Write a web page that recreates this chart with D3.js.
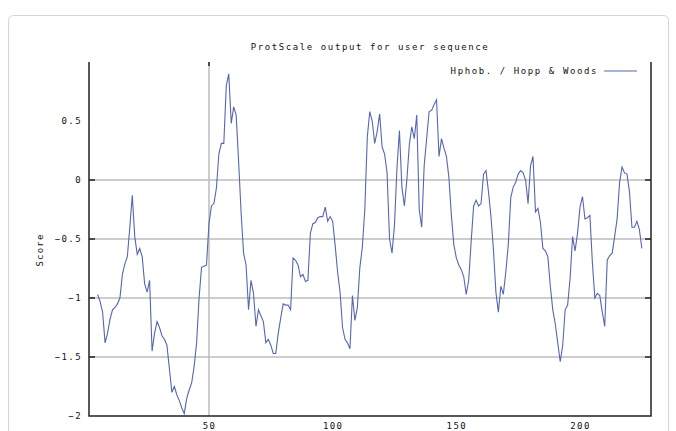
<!DOCTYPE html>
<html>
<head>
<meta charset="utf-8">
<script src="https://cdn.jsdelivr.net/npm/d3@7"></script>
<style>
  html, body { margin: 0; padding: 0; background: #fff; }
  svg { display: block; }
  text { font-family: "DejaVu Sans Mono", monospace; fill: #111; }
</style>
</head>
<body>
<svg id="chart" width="676" height="431"></svg>
<script>
// Hopp & Woods hydrophilicity profile, window centred on each residue
const firstPosition = 5;
const scores = [
  -0.97,-1.03,-1.12,-1.38,-1.3,-1.18,-1.1,-1.08,-1.05,-1.0,
  -0.8,-0.71,-0.65,-0.4,-0.13,-0.48,-0.63,-0.58,-0.65,-0.88,
  -0.95,-0.85,-1.45,-1.3,-1.2,-1.25,-1.32,-1.35,-1.4,-1.6,
  -1.8,-1.75,-1.82,-1.87,-1.93,-1.98,-1.85,-1.78,-1.72,-1.58,
  -1.38,-1.0,-0.74,-0.73,-0.72,-0.37,-0.22,-0.2,-0.07,0.22,
  0.31,0.31,0.8,0.9,0.48,0.62,0.55,0.15,-0.28,-0.62,
  -0.72,-1.1,-0.85,-0.96,-1.24,-1.1,-1.15,-1.2,-1.38,-1.35,
  -1.4,-1.47,-1.47,-1.3,-1.17,-1.05,-1.06,-1.06,-1.1,-0.66,
  -0.68,-0.72,-0.82,-0.8,-0.86,-0.85,-0.45,-0.37,-0.36,-0.32,
  -0.31,-0.31,-0.23,-0.35,-0.31,-0.35,-0.55,-0.78,-0.95,-1.25,
  -1.35,-1.38,-1.43,-0.98,-1.19,-1.08,-0.74,-0.57,-0.25,0.36,
  0.58,0.5,0.31,0.41,0.56,0.28,0.22,0.06,-0.5,-0.62,
  -0.38,0.1,0.42,-0.06,-0.22,0.0,0.3,0.45,0.35,0.55,
  -0.25,-0.4,0.12,0.35,0.58,0.59,0.64,0.68,0.2,0.35,
  0.27,0.2,0.02,-0.3,-0.55,-0.66,-0.72,-0.76,-0.82,-0.97,
  -0.85,-0.52,-0.22,-0.17,-0.22,-0.2,0.05,0.08,-0.1,-0.31,
  -0.59,-0.95,-1.12,-0.9,-0.97,-0.78,-0.55,-0.15,-0.06,-0.02,
  0.05,0.08,0.06,0.0,-0.2,0.12,0.2,-0.27,-0.24,-0.36,
  -0.58,-0.6,-0.65,-0.9,-1.1,-1.22,-1.38,-1.54,-1.4,-1.1,
  -1.06,-0.83,-0.48,-0.6,-0.45,-0.23,-0.14,-0.33,-0.32,-0.3,
  -0.7,-1.0,-0.96,-0.98,-1.12,-1.24,-0.68,-0.64,-0.62,-0.48,
  -0.33,-0.02,0.11,0.06,0.05,-0.1,-0.4,-0.4,-0.35,-0.42,-0.58
];
const xTicks = [50, 100, 150, 200];
const yTicks = [1, 0.5, 0, -0.5, -1, -1.5, -2];
const yGrid = [0, -0.5, -1, -1.5];
const xGrid = [50];
const titleText = "ProtScale output for user sequence";
const legendText = "Hphob. / Hopp & Woods";
const yLabel = "Score";

const svg = d3.select("#chart");
const lineColor = "#5566b4";

const plotLeft = 89, plotRight = 651, plotTop = 62, plotBottom = 416;
const x = d3.scaleLinear().domain([1.5, 228.7]).range([plotLeft, plotRight]);
const y = d3.scaleLinear().domain([-2, 1]).range([plotBottom, plotTop]);

// card frame
svg.append("rect")
  .attr("x", 8.5).attr("y", 15.5).attr("width", 660).attr("height", 440)
  .attr("rx", 5).attr("fill", "#fff").attr("stroke", "#d4d4d4");

const clip = svg.append("clipPath").attr("id", "topclip");
clip.append("rect").attr("x", 0).attr("y", 58).attr("width", 676).attr("height", 400);

// grid lines
svg.append("g").selectAll("line").data(yGrid).join("line")
  .attr("x1", plotLeft).attr("x2", plotRight)
  .attr("y1", d => y(d)).attr("y2", d => y(d))
  .attr("stroke", "#bdbdbd").attr("stroke-width", 1.5);
svg.append("g").selectAll("line").data(xGrid).join("line")
  .attr("x1", d => x(d)).attr("x2", d => x(d))
  .attr("y1", plotTop).attr("y2", plotBottom)
  .attr("stroke", "#bdbdbd").attr("stroke-width", 1.5);

// y axis (left) with labels
const yAxis = d3.axisLeft(y).tickValues(yTicks).tickSize(0).tickPadding(7)
  .tickFormat(d => d3.format("")(d));
const gy = svg.append("g").attr("transform", `translate(${plotLeft},0)`).call(yAxis);
gy.select(".domain").remove();
gy.selectAll("text").attr("font-size", 9).attr("letter-spacing", 1.4)
  .attr("font-family", "DejaVu Sans Mono").attr("fill", "#111");
gy.selectAll(".tick").filter(d => d === 1).attr("clip-path", "url(#topclip)");

// x axis labels
const xAxis = d3.axisBottom(x).tickValues(xTicks).tickSize(0).tickPadding(7);
const gx = svg.append("g").attr("transform", `translate(0,${plotBottom})`).call(xAxis);
gx.select(".domain").remove();
gx.selectAll("text").attr("font-size", 9).attr("letter-spacing", 1.4)
  .attr("font-family", "DejaVu Sans Mono").attr("fill", "#111");

// inner tick marks on both sides
const tickLen = 6;
svg.append("g").selectAll("line").data(yGrid).join("line")
  .attr("x1", plotLeft).attr("x2", plotLeft + tickLen)
  .attr("y1", d => y(d)).attr("y2", d => y(d))
  .attr("stroke", "#222").attr("stroke-width", 1.5);
svg.append("g").selectAll("line").data(yGrid).join("line")
  .attr("x1", plotRight - tickLen).attr("x2", plotRight)
  .attr("y1", d => y(d)).attr("y2", d => y(d))
  .attr("stroke", "#222").attr("stroke-width", 1.5);
svg.append("g").selectAll("line").data(xGrid).join("line")
  .attr("x1", d => x(d)).attr("x2", d => x(d))
  .attr("y1", plotTop).attr("y2", plotTop + 4)
  .attr("stroke", "#222").attr("stroke-width", 1.5);

// frame: left, bottom, right
svg.append("path")
  .attr("d", `M${plotLeft},${plotTop}V${plotBottom}H${plotRight}V${plotTop}`)
  .attr("fill", "none").attr("stroke", "#222").attr("stroke-width", 1.5);

// profile line
const points = scores.map((v, i) => [firstPosition + i, v]);
svg.append("path")
  .datum(points)
  .attr("fill", "none")
  .attr("stroke", lineColor)
  .attr("stroke-width", 1.1)
  .attr("d", d3.line().x(d => x(d[0])).y(d => y(d[1])));

// title
svg.append("text")
  .attr("x", 370).attr("y", 50)
  .attr("text-anchor", "middle")
  .attr("font-size", 9).attr("letter-spacing", 1.6)
  .text(titleText);

// legend
svg.append("text")
  .attr("x", 598).attr("y", 74)
  .attr("text-anchor", "end")
  .attr("font-size", 9).attr("letter-spacing", 1.6)
  .text(legendText);
svg.append("line")
  .attr("x1", 604).attr("x2", 637).attr("y1", 71).attr("y2", 71)
  .attr("stroke", lineColor).attr("stroke-width", 1.2);

// y axis title
svg.append("text")
  .attr("transform", "translate(43,250) rotate(-90)")
  .attr("text-anchor", "middle")
  .attr("font-size", 9).attr("letter-spacing", 1.2)
  .text(yLabel);
</script>
</body>
</html>
